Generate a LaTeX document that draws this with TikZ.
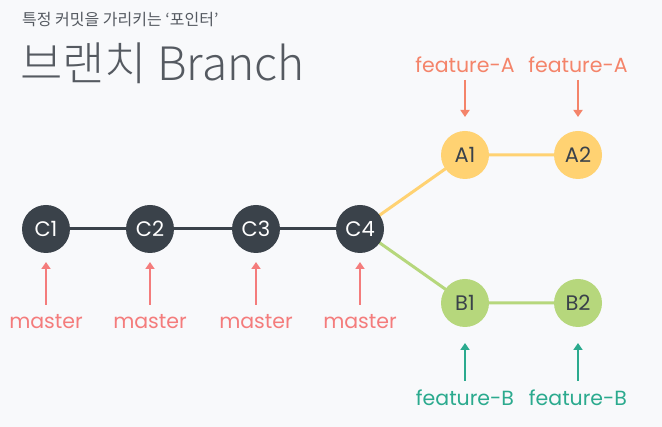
\documentclass[tikz,border=0pt]{standalone}
\usepackage{fontspec}
\setmainfont{Poppins}
\newfontfamily\kr{Noto Sans CJK KR}
\newfontfamily\krl{Noto Sans CJK KR Light}
\usetikzlibrary{arrows.meta}
\definecolor{bg}{HTML}{F8F9FB}
\definecolor{dark}{HTML}{3A424A}
\definecolor{yel}{HTML}{FFD272}
\definecolor{grn}{HTML}{B6D77C}
\definecolor{mst}{HTML}{F47C7C}
\definecolor{fa}{HTML}{F4846A}
\definecolor{fb}{HTML}{2BAA8E}
\definecolor{ttl}{HTML}{555A61}
\tikzset{
  commit/.style={circle,minimum size=48pt,inner sep=0pt,font=\fontsize{21}{21}\selectfont},
  cdark/.style={commit,fill=dark,text=white},
  cyel/.style={commit,fill=yel,text=dark},
  cgrn/.style={commit,fill=grn,text=dark},
  lbl/.style={font=\fontsize{20.5}{20.5}\selectfont,inner sep=0pt},
  ptr/.style={line width=2.6pt,-{Triangle[length=7pt,width=9pt]}},
}
\begin{document}
\begin{tikzpicture}[x=1pt,y=-1pt]
\fill[bg] (0,0) rectangle (662,427);
\useasboundingbox (0,0) rectangle (662,427);
\node[anchor=west,inner sep=0pt,text=ttl,font=\kr\fontsize{16}{16}\selectfont] (sub) at (22,20) {특정 커밋을 가리키는 ‘포인터’};
\node[anchor=west,inner sep=0pt,text=ttl,font=\krl\fontsize{46}{46}\selectfont] (ttl) at (20,63) {브랜치 Branch};
\coordinate (pc1) at (46,229);
\coordinate (pc2) at (150,229);
\coordinate (pc3) at (256,229);
\coordinate (pc4) at (360,229);
\coordinate (pa1) at (465,155);
\coordinate (pa2) at (578,155);
\coordinate (pb1) at (465,303);
\coordinate (pb2) at (578,303);
\draw[dark,line width=3pt] (pc1) -- (pc2) -- (pc3) -- (pc4);
\draw[yel,line width=3pt] (pc4) -- (pa1) -- (pa2);
\draw[grn,line width=3pt] (pc4) -- (pb1) -- (pb2);
\node[cdark] (c1) at (pc1) {C1};
\node[cdark] (c2) at (pc2) {C2};
\node[cdark] (c3) at (pc3) {C3};
\node[cdark] (c4) at (pc4) {C4};
\node[cyel] (a1) at (pa1) {A1};
\node[cyel] (a2) at (pa2) {A2};
\node[cgrn] (b1) at (pb1) {B1};
\node[cgrn] (b2) at (pb2) {B2};
% master labels
\foreach \n/\x in {m1/46,m2/150,m3/256,m4/360}{
  \node[lbl,text=mst] (\n) at (\x,322) {master};
  \coordinate (\n t) at (\x,305);
  \coordinate (\n h) at (\x,262);
  \draw[ptr,mst] (\n t) -- (\n h);
}
\foreach \n/\x in {fa1/465,fa2/578}{
  \node[lbl,text=fa] (\n) at (\x,65) {feature-A};
  \coordinate (\n t) at (\x,80);
  \coordinate (\n h) at (\x,117);
  \draw[ptr,fa] (\n t) -- (\n h);
}
\foreach \n/\x in {fb1/465,fb2/578}{
  \node[lbl,text=fb] (\n) at (\x,398) {feature-B};
  \coordinate (\n t) at (\x,381);
  \coordinate (\n h) at (\x,343);
  \draw[ptr,fb] (\n t) -- (\n h);
}
\end{tikzpicture}
\end{document}
